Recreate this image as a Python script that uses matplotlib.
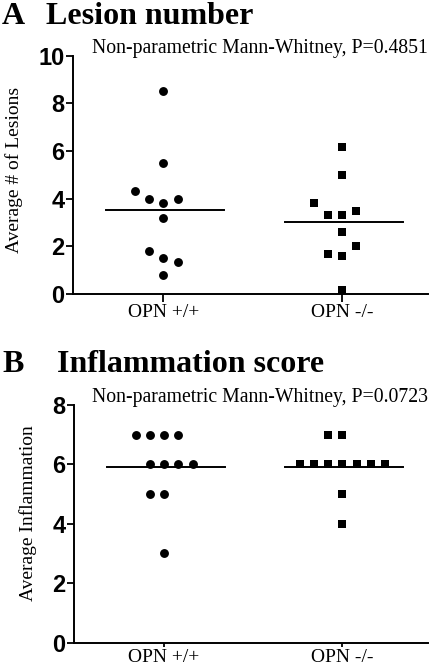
import matplotlib
matplotlib.use("Agg")
import matplotlib.pyplot as plt
import numpy as np

# ---- data ----
categories = ["OPN +/+", "OPN -/-"]

lesion_wt = [8.5, 5.5, 4.33, 4.0, 4.0, 3.8, 3.2, 1.8, 1.5, 1.33, 0.8]
lesion_wt_col = [0, 0, -2, -1, 1, 0, 0, -1, 0, 1, 0]
lesion_ko = [6.17, 5.0, 3.83, 3.5, 3.33, 3.33, 2.6, 2.0, 1.67, 1.6, 0.17]
lesion_ko_col = [0, 0, -2, 1, -1, 0, 0, 1, -1, 0, 0]

infl_wt = [7, 7, 7, 7, 6, 6, 6, 6, 5, 5, 3]
infl_wt_col = [-2, -1, 0, 1, -1, 0, 1, 2, -1, 0, 0]
infl_ko = [7, 7, 6, 6, 6, 6, 6, 6, 6, 5, 4]
infl_ko_col = [-1, 0, -3, -2, -1, 0, 1, 2, 3, 0, 0]

lesion_ticks = [0, 2, 4, 6, 8, 10]
infl_ticks = [0, 2, 4, 6, 8]

W, H = 433, 666
fig = plt.figure(figsize=(W / 100, H / 100), dpi=100)

serif = "Liberation Serif"
sans = "Liberation Sans"
STEP = 0.08


def panel(rect, wt, wtc, ko, koc, ticks, ylim, ylabel, stat, tick_len):
    ax = fig.add_axes(rect)
    for i, (vals, cols, mk, ms) in enumerate([(wt, wtc, "o", 6.4), (ko, koc, "s", 6.0)]):
        x = i + np.array(cols) * STEP
        ax.plot(x, vals, linestyle="none", marker=mk, ms=ms, color="black",
                markeredgewidth=0, zorder=3, clip_on=False)
        m = np.mean(vals)
        ax.plot([i - 0.32, i + 0.34], [m, m], color="black", lw=1.4, zorder=2)
    ax.set_xlim(-0.505, 1.48)
    ax.set_ylim(*ylim)
    ax.set_xticks([0, 1])
    ax.set_xticklabels(categories, fontfamily=serif, fontsize=14)
    ax.set_yticks(ticks)
    ax.set_yticklabels([str(t) for t in ticks], fontfamily=sans, fontweight="bold",
                       fontsize=17)
    for s in ["top", "right"]:
        ax.spines[s].set_visible(False)
    for s in ["left", "bottom"]:
        ax.spines[s].set_linewidth(1.4)
    ax.tick_params(axis="y", length=5, width=1.3, pad=1)
    ax.tick_params(axis="x", length=tick_len, width=1.3, pad=1.5)
    ax.set_ylabel(ylabel, fontfamily=serif, fontsize=14)
    ax.text(1.0, 1.0 + 3 / 238, stat, transform=ax.transAxes, ha="right", va="baseline",
            fontfamily=serif, fontsize=14.2)
    return ax


axA = panel([73 / W, 1 - 294 / H, 355 / W, 238.3 / H], lesion_wt, lesion_wt_col,
            lesion_ko, lesion_ko_col, lesion_ticks, (0, 10),
            "Average # of Lesions", "Non-parametric Mann-Whitney, P=0.4851", 6)
axA.yaxis.set_label_coords(-0.14, 0.52)

axB = panel([74 / W, 1 - 642.5 / H, 354 / W, 237.5 / H], infl_wt, infl_wt_col,
            infl_ko, infl_ko_col, infl_ticks, (0, 8),
            "Average Inflammation", "Non-parametric Mann-Whitney, P=0.0723", 3)
axB.yaxis.set_label_coords(-0.105, 0.545)

fig.text(2 / W, 1 - 24 / H, "A", fontfamily=serif, fontweight="bold", fontsize=23, va="baseline")
fig.text(46 / W, 1 - 24 / H, "Lesion number", fontfamily=serif, fontweight="bold", fontsize=23,
         va="baseline")
fig.text(2 / W, 1 - 372 / H, "B", fontfamily=serif, fontweight="bold", fontsize=23, va="baseline")
fig.text(57 / W, 1 - 372 / H, "Inflammation score", fontfamily=serif, fontweight="bold",
         fontsize=23, va="baseline")

fig.savefig("out.png", dpi=100)
